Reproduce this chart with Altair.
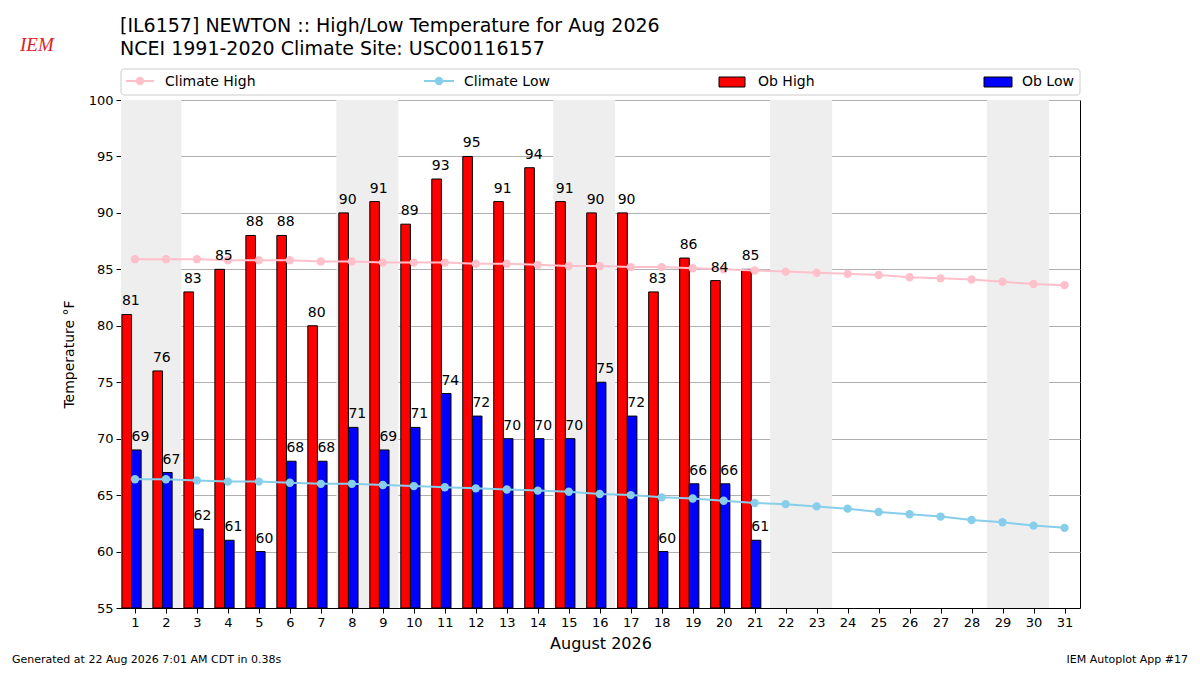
import altair as alt
import pandas as pd

# ---- data ----
days_obs = list(range(1, 22))
ob_high = [81, 76, 83, 85, 88, 88, 80, 90, 91, 89, 93, 95, 91, 94, 91, 90, 90, 83, 86, 84, 85]
ob_low = [69, 67, 62, 61, 60, 68, 68, 71, 69, 71, 74, 72, 70, 70, 70, 75, 72, 60, 66, 66, 61]

days_all = list(range(1, 32))
clim_high = [85.9, 85.9, 85.9, 85.8, 85.8, 85.8, 85.7, 85.7, 85.6, 85.6, 85.6, 85.5, 85.5, 85.4,
             85.3, 85.3, 85.2, 85.2, 85.1, 85.0, 84.9, 84.8, 84.7, 84.6, 84.5, 84.3, 84.2, 84.1,
             83.9, 83.7, 83.6]
clim_low = [66.4, 66.4, 66.3, 66.2, 66.2, 66.1, 66.0, 66.0, 65.9, 65.8, 65.7, 65.6, 65.5, 65.4,
            65.3, 65.1, 65.0, 64.8, 64.7, 64.5, 64.3, 64.2, 64.0, 63.8, 63.5, 63.3, 63.1, 62.8,
            62.6, 62.3, 62.1]
weekend_saturdays = [1, 8, 15, 22, 29]

title_lines = ["[IL6157] NEWTON :: High/Low Temperature for Aug 2026",
               "NCEI 1991-2020 Climate Site: USC00116157"]
footer_left = "Generated at 22 Aug 2026 7:01 AM CDT in 0.38s"
footer_right = "IEM Autoplot App #17"
x_title = "August 2026"
y_title = "Temperature °F"

FONT = "DejaVu Sans"
W, H = 959, 508

obs = pd.DataFrame({"day": days_obs, "high": ob_high, "low": ob_low})
clim = pd.DataFrame({"day": days_all, "chigh": clim_high, "clow": clim_low})
wk = pd.DataFrame({"sat": weekend_saturdays})

xscale = alt.Scale(domain=[0.55, 31.5], nice=False, zero=False)
yscale = alt.Scale(domain=[55, 100], nice=False, zero=False)
xaxis = alt.Axis(values=days_all, format="d", title=x_title, grid=False,
                 labelOverlap=False, labelFlush=False,
                 titleFontSize=16, titleFont=FONT, titlePadding=6)
yaxis = alt.Axis(values=list(range(55, 101, 5)), title=y_title, grid=True,
                 labelOverlap=False, labelFlush=False,
                 titleFontSize=14, titleFont=FONT, titleFontWeight="normal",
                 titlePadding=12)


def X(field):
    return alt.X(field, scale=xscale, axis=xaxis)


def Y(field):
    return alt.Y(field, scale=yscale, axis=yaxis)


bands = alt.Chart(wk).mark_rect(color="#eeeeee", clip=True).transform_calculate(
    x1="datum.sat - 0.5", x2="datum.sat + 1.5"
).encode(
    x=X("x1:Q"), x2="x2:Q",
    y=alt.value(0), y2=alt.value(H),
)

base_obs = alt.Chart(obs)

red_bars = base_obs.mark_rect(color="#ff0000", stroke="black", strokeWidth=1).transform_calculate(
    x1="datum.day - 0.42", x2="datum.day - 0.11"
).encode(x=X("x1:Q"), x2="x2:Q", y=Y("high:Q"), y2=alt.datum(55))
blue_bars = base_obs.mark_rect(color="#0000ff", stroke="black", strokeWidth=1).transform_calculate(
    x1="datum.day - 0.11", x2="datum.day + 0.20"
).encode(x=X("x1:Q"), x2="x2:Q", y=Y("low:Q"), y2=alt.datum(55))

red_text = base_obs.mark_text(align="left", baseline="alphabetic", dy=-9, fontSize=14,
                              font=FONT, color="black").transform_calculate(
    xl="datum.day - 0.42"
).encode(x=X("xl:Q"), y=Y("high:Q"), text="high:Q")
blue_text = base_obs.mark_text(align="left", baseline="alphabetic", dy=-9, fontSize=14,
                               font=FONT, color="black").transform_calculate(
    xl="datum.day - 0.11"
).encode(x=X("xl:Q"), y=Y("low:Q"), text="low:Q")

base_clim = alt.Chart(clim)
ch_line = base_clim.mark_line(color="#ffc0cb", strokeWidth=2,
                              point=alt.OverlayMarkDef(color="#ffc0cb", size=70, filled=True, opacity=1)
                              ).encode(x=X("day:Q"), y=Y("chigh:Q"))
cl_line = base_clim.mark_line(color="#87ceeb", strokeWidth=2,
                              point=alt.OverlayMarkDef(color="#87ceeb", size=70, filled=True, opacity=1)
                              ).encode(x=X("day:Q"), y=Y("clow:Q"))

# ---- legend (drawn as decoration) ----
one = pd.DataFrame({"k": [0]})
leg_box = alt.Chart(one).mark_rect(fill="white", stroke="#cccccc", strokeWidth=1, cornerRadius=3).encode(
    x=alt.value(0), x2=alt.value(W), y=alt.value(-31), y2=alt.value(-5))
leg_items = []
for (x1, x2, col) in [(5, 33, "#ffc0cb"), (303, 333, "#87ceeb")]:
    leg_items.append(alt.Chart(one).mark_rule(color=col, strokeWidth=2).encode(
        x=alt.value(x1), x2=alt.value(x2), y=alt.value(-19)))
    leg_items.append(alt.Chart(one).mark_point(color=col, filled=True, size=70, opacity=1).encode(
        x=alt.value((x1 + x2) / 2), y=alt.value(-19)))
for (x1, x2, col) in [(598, 624, "#ff0000"), (863, 891, "#0000ff")]:
    leg_items.append(alt.Chart(one).mark_rect(fill=col, stroke="black", strokeWidth=1).encode(
        x=alt.value(x1), x2=alt.value(x2), y=alt.value(-23), y2=alt.value(-13)))
for (xt, label) in [(44, "Climate High"), (343, "Climate Low"), (637, "Ob High"), (901, "Ob Low")]:
    leg_items.append(alt.Chart(pd.DataFrame({"t": [label]})).mark_text(
        align="left", baseline="middle", fontSize=14, font=FONT, color="black").encode(
        x=alt.value(xt), y=alt.value(-18), text="t:N"))

# ---- titles, logo, footers ----
texts = []
for i, line in enumerate(title_lines):
    texts.append(alt.Chart(pd.DataFrame({"t": [line]})).mark_text(
        align="left", baseline="alphabetic", fontSize=19, font=FONT, color="black").encode(
        x=alt.value(-1), y=alt.value(-68 + 23 * i), text="t:N"))
texts.append(alt.Chart(pd.DataFrame({"t": ["IEM"]})).mark_text(
    align="left", baseline="alphabetic", fontSize=19, font="Liberation Serif", fontStyle="italic",
    color="#dd2222").encode(x=alt.value(-101), y=alt.value(-49), text="t:N"))
texts.append(alt.Chart(pd.DataFrame({"t": [footer_left]})).mark_text(
    align="left", baseline="alphabetic", fontSize=11, font=FONT, color="black").encode(
    x=alt.value(-109), y=alt.value(563), text="t:N"))
texts.append(alt.Chart(pd.DataFrame({"t": [footer_right]})).mark_text(
    align="right", baseline="alphabetic", fontSize=11, font=FONT, color="black").encode(
    x=alt.value(1067), y=alt.value(563), text="t:N"))

chart = alt.layer(
    bands, red_bars, blue_bars, ch_line, cl_line, red_text, blue_text,
    leg_box, *leg_items, *texts
).properties(
    width=W, height=H,
    autosize=alt.AutoSizeParams(type="none"),
    padding={"left": 113, "top": 92, "right": 112, "bottom": 59},
).configure_view(
    stroke="black", strokeWidth=1
).configure_axis(
    labelFont=FONT, labelFontSize=13, labelColor="black", titleColor="black",
    domainColor="black", tickColor="black", tickSize=5, gridColor="#b0b0b0", gridWidth=1,
    titleFontWeight="normal", labelPadding=3, labelOverlap=False
)

chart.save("out.html", embed_options={"renderer": "svg", "actions": False})
